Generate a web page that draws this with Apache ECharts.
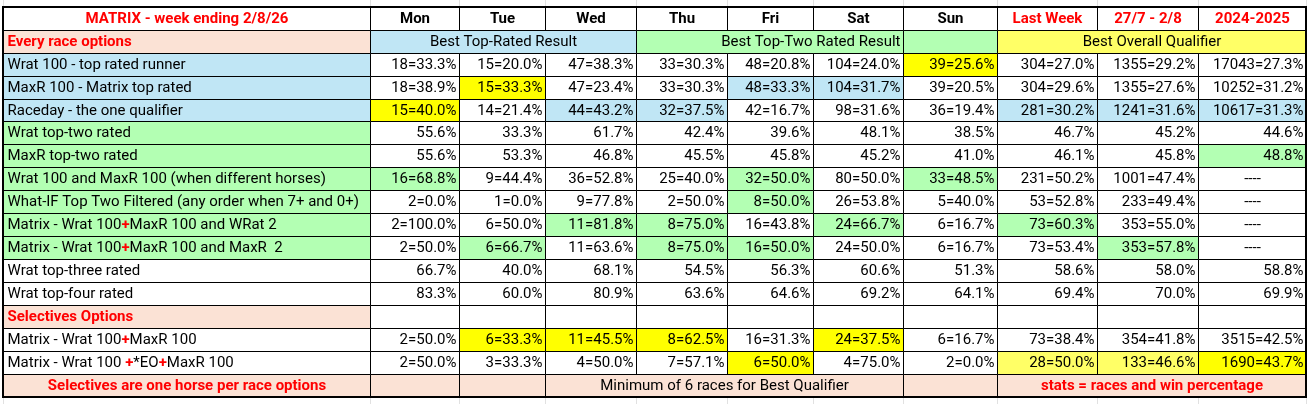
<!DOCTYPE html>
<html>
<head>
<meta charset="utf-8">
<title>MATRIX - week ending 2/8/26</title>
<script src="https://cdn.jsdelivr.net/npm/echarts@6.0.0/dist/echarts.min.js"></script>
<style>
  html, body { margin: 0; padding: 0; background: #fff; }
  #main { width: 1311px; height: 404px; }
</style>
</head>
<body>
<div id="main"></div>
<script>
var title = 'MATRIX - week ending 2/8/26';
var days = ['Mon', 'Tue', 'Wed', 'Thu', 'Fri', 'Sat', 'Sun'];
var periods = ['Last Week', '27/7 - 2/8', '2024-2025'];
var groupTitles = ['Best Top-Rated Result', 'Best Top-Two Rated Result', 'Best Overall Qualifier'];
var sectionEvery = 'Every race options';
var sectionSelect = 'Selectives Options';
var footerLeft = 'Selectives are one horse per race options';
var footerMid = 'Minimum of 6 races for Best Qualifier';
var footerRight = 'stats = races and win percentage';

// values: Mon..Sun, Last Week, 27/7 - 2/8, 2024-2025
var wrat100   = ['18=33.3%', '15=20.0%', '47=38.3%', '33=30.3%', '48=20.8%', '104=24.0%', '39=25.6%', '304=27.0%', '1355=29.2%', '17043=27.3%'];
var maxr100   = ['18=38.9%', '15=33.3%', '47=23.4%', '33=30.3%', '48=33.3%', '104=31.7%', '39=20.5%', '304=29.6%', '1355=27.6%', '10252=31.2%'];
var raceday   = ['15=40.0%', '14=21.4%', '44=43.2%', '32=37.5%', '42=16.7%', '98=31.6%', '36=19.4%', '281=30.2%', '1241=31.6%', '10617=31.3%'];
var wratTop2  = ['55.6%', '33.3%', '61.7%', '42.4%', '39.6%', '48.1%', '38.5%', '46.7%', '45.2%', '44.6%'];
var maxrTop2  = ['55.6%', '53.3%', '46.8%', '45.5%', '45.8%', '45.2%', '41.0%', '46.1%', '45.8%', '48.8%'];
var bothDiff  = ['16=68.8%', '9=44.4%', '36=52.8%', '25=40.0%', '32=50.0%', '80=50.0%', '33=48.5%', '231=50.2%', '1001=47.4%', '----'];
var whatIf    = ['2=0.0%', '1=0.0%', '9=77.8%', '2=50.0%', '8=50.0%', '26=53.8%', '5=40.0%', '53=52.8%', '233=49.4%', '----'];
var matrixW2  = ['2=100.0%', '6=50.0%', '11=81.8%', '8=75.0%', '16=43.8%', '24=66.7%', '6=16.7%', '73=60.3%', '353=55.0%', '----'];
var matrixM2  = ['2=50.0%', '6=66.7%', '11=63.6%', '8=75.0%', '16=50.0%', '24=50.0%', '6=16.7%', '73=53.4%', '353=57.8%', '----'];
var wratTop3  = ['66.7%', '40.0%', '68.1%', '54.5%', '56.3%', '60.6%', '51.3%', '58.6%', '58.0%', '58.8%'];
var wratTop4  = ['83.3%', '60.0%', '80.9%', '63.6%', '64.6%', '69.2%', '64.1%', '69.4%', '70.0%', '69.9%'];
var selMatrix = ['2=50.0%', '6=33.3%', '11=45.5%', '8=62.5%', '16=31.3%', '24=37.5%', '6=16.7%', '73=38.4%', '354=41.8%', '3515=42.5%'];
var selEO     = ['2=50.0%', '3=33.3%', '4=50.0%', '7=57.1%', '6=50.0%', '4=75.0%', '2=0.0%', '28=50.0%', '133=46.6%', '1690=43.7%'];

var everyRows = [
  ['Wrat 100 - top rated runner', wrat100],
  ['MaxR 100 - Matrix top rated', maxr100],
  ['Raceday - the one qualifier', raceday],
  ['Wrat top-two rated', wratTop2],
  ['MaxR top-two rated', maxrTop2],
  ['Wrat 100 and MaxR 100 (when different horses)', bothDiff],
  ['What-IF Top Two Filtered (any order when 7+ and 0+)', whatIf],
  ['Matrix - Wrat 100+MaxR 100 and WRat 2', matrixW2],
  ['Matrix - Wrat 100+MaxR 100 and MaxR  2', matrixM2],
  ['Wrat top-three rated', wratTop3],
  ['Wrat top-four rated', wratTop4]
];
var selectRows = [
  ['Matrix - Wrat 100+MaxR 100', selMatrix],
  ['Matrix - Wrat 100 +*EO+MaxR 100', selEO]
];

// ---- styling (kept apart from the data) ----
var C = {
  peach: '#FBE2D5',
  blue: '#C0E6F5',
  green: '#B3FFB3',
  yellow: '#FFFF00',
  lightYellow: '#FFFF66',
  white: '#FFFFFF',
  red: '#FF0000',
  text: '#000000'
};
var colWidths = [367, 89, 86, 91, 91, 86, 90, 94, 100, 101, 108];
var labelBg = ['blue', 'blue', 'blue', 'green', 'green', 'green', 'green', 'green', 'green', 'white', 'white'];
// highlighted cells: row index -> {value column index: colour}
var everyHl = {
  0: {6: 'yellow'},
  1: {1: 'yellow', 4: 'blue', 5: 'blue'},
  2: {0: 'yellow', 2: 'blue', 3: 'blue', 7: 'blue', 8: 'blue', 9: 'blue'},
  4: {9: 'green'},
  5: {0: 'green', 4: 'green', 6: 'green'},
  6: {4: 'green'},
  7: {2: 'green', 3: 'green', 5: 'green', 7: 'green'},
  8: {1: 'green', 3: 'green', 4: 'green', 8: 'green'}
};
var selectHl = {
  0: {1: 'yellow', 2: 'yellow', 3: 'yellow', 5: 'yellow'},
  1: {4: 'yellow', 7: 'lightYellow', 8: 'lightYellow', 9: 'yellow'}
};

var FONT = 'Roboto';
var FS = 15;

function fill(name) { return {color: C[name]}; }
function richLabel(text) {
  if (text.indexOf('Matrix') === 0) return text.replace(/\+/g, '{r|+}');
  return text;
}
function leftLabel(extra) {
  return Object.assign({position: 'insideLeft', distance: 4, align: 'left'}, extra || {});
}
function rightLabel() {
  return {position: 'insideRight', distance: 3, align: 'right'};
}
function centerLabel(extra) {
  return Object.assign({position: 'inside', align: 'center'}, extra || {});
}
var redBold = {color: C.red, fontWeight: 'bold'};
var bold = {fontWeight: 'bold'};

var cells = [];

// header row
cells.push({coord: [0, 0], value: title, label: centerLabel(redBold)});
days.forEach(function (d, i) {
  cells.push({coord: [i + 1, 0], value: d, label: centerLabel(bold)});
});
periods.forEach(function (p, i) {
  cells.push({coord: [days.length + 1 + i, 0], value: p, label: centerLabel(redBold)});
});

// group row
cells.push({coord: [0, 1], value: sectionEvery, itemStyle: fill('peach'), label: leftLabel(redBold)});
cells.push({coord: [[1, 3], 1], mergeCells: true, value: groupTitles[0], itemStyle: fill('blue'), label: centerLabel()});
cells.push({coord: [[4, 6], 1], mergeCells: true, value: groupTitles[1], itemStyle: fill('green'), label: rightLabel()});
cells.push({coord: [7, 1], value: '', itemStyle: fill('green')});
cells.push({coord: [[8, 10], 1], mergeCells: true, value: groupTitles[2], itemStyle: fill('lightYellow'), label: centerLabel()});

function addRow(y, row, bg, hl) {
  cells.push({coord: [0, y], value: richLabel(row[0]), itemStyle: fill(bg), label: leftLabel()});
  row[1].forEach(function (v, i) {
    var c = hl && hl[i] ? hl[i] : 'white';
    cells.push({
      coord: [i + 1, y],
      value: v,
      itemStyle: fill(c),
      label: v === '----' ? centerLabel() : rightLabel()
    });
  });
}

everyRows.forEach(function (row, i) {
  addRow(i + 2, row, labelBg[i], everyHl[i]);
});

var ySel = everyRows.length + 2;
cells.push({coord: [0, ySel], value: sectionSelect, itemStyle: fill('peach'), label: leftLabel(redBold)});
selectRows.forEach(function (row, i) {
  addRow(ySel + 1 + i, row, 'white', selectHl[i]);
});

var yFoot = ySel + 1 + selectRows.length;
cells.push({coord: [0, yFoot], value: footerLeft, itemStyle: fill('peach'), label: centerLabel(redBold)});
cells.push({coord: [1, yFoot], value: '', itemStyle: fill('peach')});
cells.push({coord: [2, yFoot], value: '', itemStyle: fill('peach')});
cells.push({coord: [[3, 6], yFoot], mergeCells: true, value: footerMid, itemStyle: fill('peach'), label: centerLabel()});
cells.push({coord: [7, yFoot], value: '', itemStyle: fill('peach')});
cells.push({coord: [[8, 10], yFoot], mergeCells: true, value: footerRight, itemStyle: fill('peach'), label: centerLabel(redBold)});

var nRows = yFoot + 1;
var colData = colWidths.map(function (w, i) { return {value: 'c' + i, size: w}; });
var rowData = [];
for (var r = 0; r < nRows; r++) rowData.push('r' + r);
var gridRows = [];
for (var g = 0; g < nRows + 2; g++) gridRows.push('g' + g);

var TOP = 7, LEFT = 3, ROW_H = 22.94;
var tableW = colWidths.reduce(function (a, b) { return a + b; }, 0);

var chart = echarts.init(document.getElementById('main'), null, {renderer: 'canvas'});
chart.setOption({
  backgroundColor: '#fff',
  textStyle: {fontFamily: FONT},
  matrix: [
    {
      // faint spreadsheet gridlines around the table
      left: LEFT, top: TOP - ROW_H, width: tableW, height: ROW_H * (nRows + 2),
      x: {show: false, data: colData},
      y: {show: false, data: gridRows},
      body: {itemStyle: {color: '#fff', borderColor: '#E1E1E1', borderWidth: 1}},
      backgroundStyle: {color: '#fff', borderWidth: 0},
      z: 0
    },
    {
      left: LEFT, top: TOP, width: tableW, height: ROW_H * nRows,
      x: {show: false, data: colData},
      y: {show: false, data: rowData},
      body: {
        data: cells,
        itemStyle: {color: '#fff', borderColor: '#000', borderWidth: 1},
        label: {color: C.text, fontSize: FS, fontFamily: FONT, overflow: 'none', padding: [4, 0, 0, 0],
          rich: {r: {color: C.red, fontWeight: 'bold', fontSize: FS, fontFamily: FONT}}}
      },
      backgroundStyle: {color: 'none', borderColor: '#000', borderWidth: 2},
      z: 2
    },
    {
      // heavier frame round the whole table and the summary block
      left: LEFT, top: TOP, width: tableW, height: ROW_H * nRows,
      x: {show: false, data: colData},
      y: {show: false, data: rowData},
      body: {
        data: [
          {coord: [[0, 10], [0, nRows - 1]], mergeCells: true, value: '',
            itemStyle: {color: 'none', borderColor: '#000', borderWidth: 2}},
          {coord: [[8, 10], [0, nRows - 1]], mergeCells: true, value: '',
            itemStyle: {color: 'none', borderColor: '#000', borderWidth: 2}}
        ],
        itemStyle: {color: 'none', borderWidth: 0}
      },
      backgroundStyle: {color: 'none', borderWidth: 0},
      z: 4
    }
  ]
});
</script>
</body>
</html>
